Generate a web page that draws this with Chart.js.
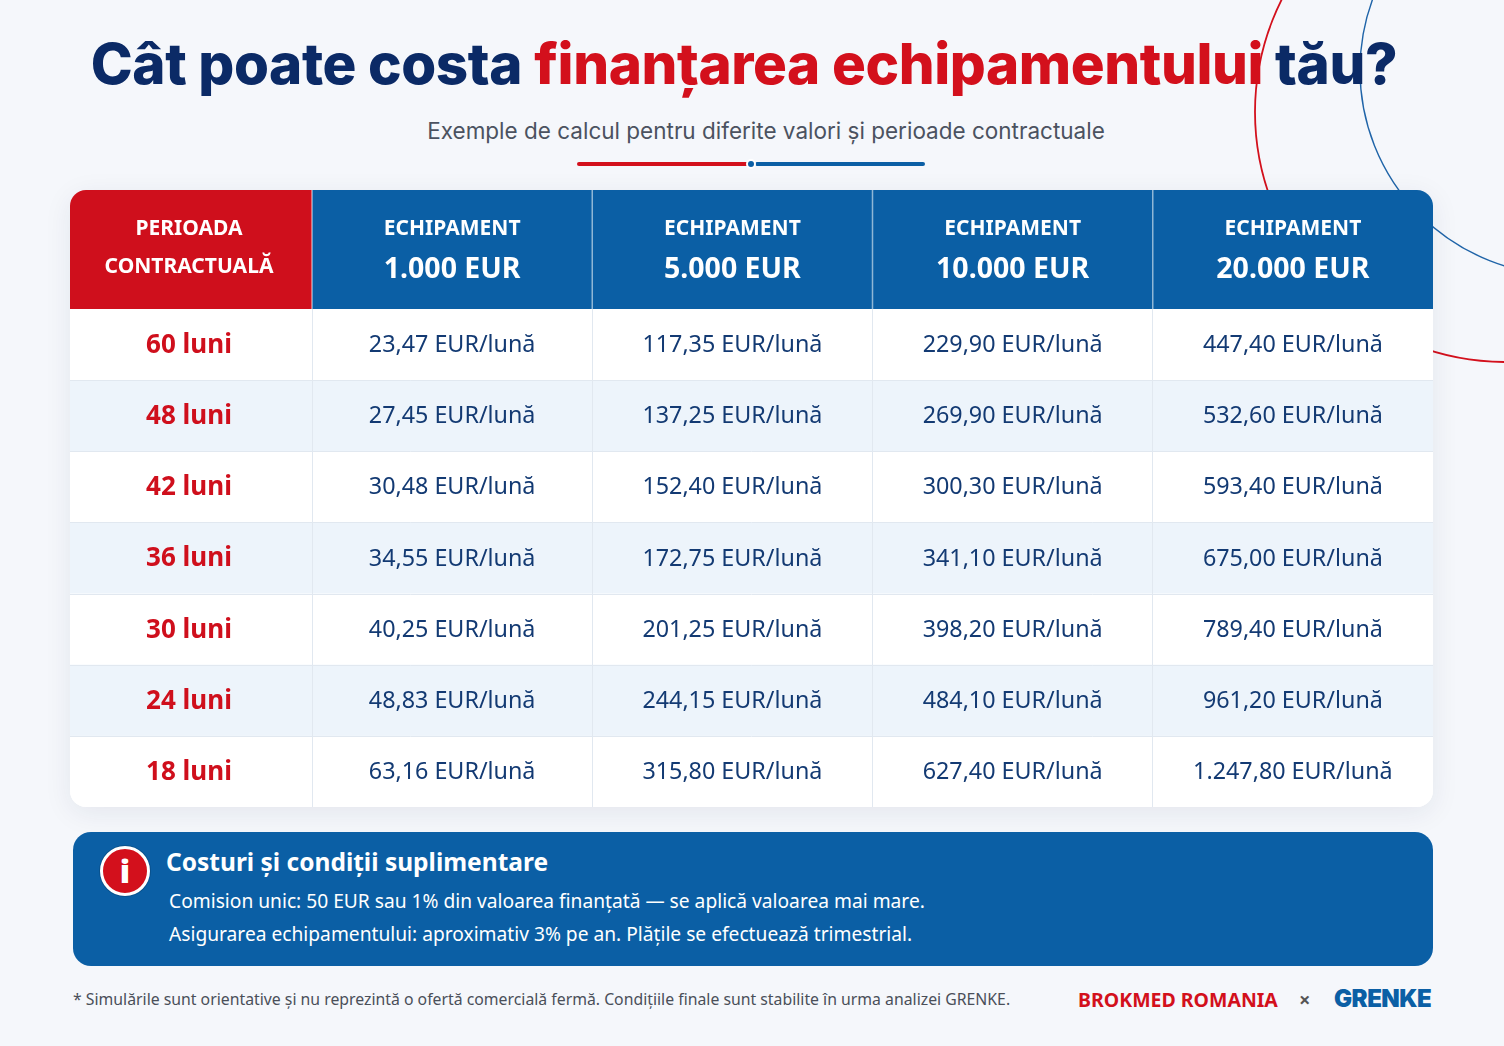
<!DOCTYPE html>
<html lang="ro">
<head>
<meta charset="utf-8">
<script src="https://cdn.jsdelivr.net/npm/chart.js@4.4.1/dist/chart.umd.min.js"></script>
<style>
  html,body{margin:0;padding:0;}
  body{width:1504px;height:1046px;background:#f5f7fb;position:relative;overflow:hidden;font-family:"Noto Sans",sans-serif;}
  #deco{position:absolute;left:0;top:0;width:1504px;height:1046px;pointer-events:none;}
  h1{position:absolute;left:0;top:24px;width:1488px;margin:0;text-align:center;font-family:Inter,sans-serif;font-weight:800;font-size:56.5px;letter-spacing:-0.4px;color:#0b2a66;line-height:80px;}
  h1 .r{color:#d3101c;}
  .sub{position:absolute;left:0;width:1532px;top:116px;text-align:center;font-family:Inter,sans-serif;font-size:22.5px;color:#4b5260;line-height:30px;}
  .bar{position:absolute;top:162px;height:4px;border-radius:2px;}
  .dot{position:absolute;left:746px;top:159px;width:6px;height:6px;border-radius:50%;background:#0b5fa5;border:2px solid #fff;}
  #card{position:absolute;left:70px;top:190px;width:1363px;height:617px;border-radius:16px;overflow:hidden;background:#fff;box-shadow:0 6px 28px rgba(20,40,80,0.08);}
  #info{position:absolute;left:73px;top:832px;width:1360px;height:134px;border-radius:18px;background:#0b5fa5;color:#fff;}
  .ititle{position:absolute;left:93px;top:13px;font-weight:700;font-size:24.5px;line-height:34px;}
  .iline{position:absolute;left:96px;font-size:19.2px;line-height:28px;}
  .icon{position:absolute;left:27px;top:14px;width:50px;height:50px;border-radius:50%;background:#d3101c;border:3px solid #fff;box-sizing:border-box;color:#fff;font-weight:900;font-size:32px;line-height:43px;text-align:center;font-family:"Noto Sans",sans-serif;box-shadow:0 0 0 1px rgba(0,0,0,0.15);}
  .foot{position:absolute;left:73px;top:987px;font-size:15.8px;color:#4a4f59;line-height:24px;}
  .brand{position:absolute;left:1078px;top:985px;font-weight:700;font-size:19.5px;color:#d3101c;line-height:30px;}
  .x{position:absolute;left:1299px;top:985px;font-weight:700;font-size:20px;color:#555;line-height:30px;}
  .grenke{position:absolute;left:1334px;top:983px;font-family:Inter,sans-serif;font-weight:900;font-size:24px;color:#0b5fa5;line-height:32px;letter-spacing:-0.5px;}
</style>
</head>
<body>
<svg id="deco" viewBox="0 0 1504 1046">
  <circle cx="1505" cy="112" r="250" fill="none" stroke="#d3101c" stroke-width="1.8"/>
  <circle cx="1565" cy="70" r="205" fill="none" stroke="#1f64a8" stroke-width="1.4"/>
</svg>
<h1>Cât poate costa <span class="r">finanțarea echipamentului</span> tău?</h1>
<div class="sub">Exemple de calcul pentru diferite valori și perioade contractuale</div>
<div class="bar" style="left:577px;width:172px;background:#d3101c;"></div>
<div class="bar" style="left:755px;width:170px;background:#0b5fa5;"></div>
<div class="dot"></div>

<div id="card"><canvas id="c"></canvas></div>

<div id="info">
  <div class="icon">i</div>
  <div class="ititle">Costuri și condiții suplimentare</div>
  <div class="iline" style="top:55px;">Comision unic: 50 EUR sau 1% din valoarea finanțată — se aplică valoarea mai mare.</div>
  <div class="iline" style="top:88px;">Asigurarea echipamentului: aproximativ 3% pe an. Plățile se efectuează trimestrial.</div>
</div>

<div class="foot">* Simulările sunt orientative și nu reprezintă o ofertă comercială fermă. Condițiile finale sunt stabilite în urma analizei GRENKE.</div>
<div class="brand">BROKMED ROMANIA</div>
<div class="x">×</div>
<div class="grenke">GRENKE</div>

<script>
// ---- data ----
const periodHeader = ['PERIOADA', 'CONTRACTUALĂ'];
const equipmentHeader = 'ECHIPAMENT';
const periods = ['60 luni', '48 luni', '42 luni', '36 luni', '30 luni', '24 luni', '18 luni'];
const equipment = ['1.000 EUR', '5.000 EUR', '10.000 EUR', '20.000 EUR'];
const rate1000 = [23.47, 27.45, 30.48, 34.55, 40.25, 48.83, 63.16];
const rate5000 = [117.35, 137.25, 152.40, 172.75, 201.25, 244.15, 315.80];
const rate10000 = [229.90, 269.90, 300.30, 341.10, 398.20, 484.10, 627.40];
const rate20000 = [447.40, 532.60, 593.40, 675.00, 789.40, 961.20, 1247.80];
const unit = 'EUR/lună';

const rates = [rate1000, rate5000, rate10000, rate20000];

function fmt(v) {
  const parts = v.toFixed(2).split('.');
  const int = parts[0].replace(/\B(?=(\d{3})+(?!\d))/g, '.');
  return int + ',' + parts[1] + ' ' + unit;
}

const RED = '#cf0f1c', BLUE = '#0b5fa5', NAVY = '#133a73';

const tablePlugin = {
  id: 'tablePlugin',
  beforeDraw(chart) {
    const {ctx, scales: {x, y}, width} = chart;
    const band = (y.getPixelForValue(1) - y.getPixelForValue(0)) / 2;
    ctx.save();
    ctx.fillStyle = '#ffffff';
    ctx.fillRect(0, 0, width, chart.height);
    periods.forEach((p, i) => {
      const cy = y.getPixelForValue(i);
      if (i % 2 === 1) {
        ctx.fillStyle = '#edf4fb';
        ctx.fillRect(0, cy - band, width, band * 2);
      }
    });
    ctx.strokeStyle = '#e1e8f0';
    ctx.lineWidth = 1;
    periods.forEach((p, i) => {
      if (i === 0) return;
      const yy = Math.round(y.getPixelForValue(i) - band) + 0.5;
      ctx.beginPath(); ctx.moveTo(0, yy); ctx.lineTo(width, yy); ctx.stroke();
    });
    ctx.restore();
  },
  afterDraw(chart) {
    const {ctx, scales: {x, y}, width} = chart;
    const half = (x.getPixelForValue(1) - x.getPixelForValue(0)) / 2;
    const top = 0, bottom = x.bottom;
    ctx.save();
    ctx.fillStyle = RED;
    ctx.fillRect(0, top, x.left, bottom - top);
    ctx.fillStyle = BLUE;
    ctx.fillRect(x.left, top, width - x.left, bottom - top);
    ctx.strokeStyle = 'rgba(255,255,255,0.55)';
    ctx.lineWidth = 1.5;
    equipment.forEach((e, j) => {
      const xx = x.getPixelForValue(j) - half;
      ctx.beginPath(); ctx.moveTo(xx, top); ctx.lineTo(xx, bottom); ctx.stroke();
    });
    ctx.textAlign = 'center';
    ctx.textBaseline = 'middle';
    ctx.fillStyle = '#ffffff';
    const mid = (top + bottom) / 2;
    const c0 = x.left / 2 - 2;
    ctx.font = '700 21px "Noto Sans"';
    ctx.fillText(periodHeader[0], c0, mid - 20);
    ctx.fillText(periodHeader[1], c0, mid + 18);
    equipment.forEach((e, j) => {
      const cx = x.getPixelForValue(j);
      ctx.font = '700 21px "Noto Sans"';
      ctx.fillText(equipmentHeader, cx, mid - 20);
      ctx.font = '700 28.5px "Noto Sans"';
      ctx.fillText(e, cx, mid + 20);
    });
    ctx.fillStyle = RED;
    ctx.font = '700 26px "Noto Sans"';
    periods.forEach((p, i) => {
      ctx.fillText(p, c0, y.getPixelForValue(i) + 1);
    });
    ctx.fillStyle = NAVY;
    ctx.font = '400 23.3px "Noto Sans"';
    chart.data.datasets.forEach((ds, d) => {
      const meta = chart.getDatasetMeta(d);
      meta.data.forEach((pt, k) => {
        ctx.fillText(fmt(ds.data[k].v), pt.x, pt.y + 1);
      });
    });
    ctx.restore();
  }
};

const datasets = equipment.map((e, j) => ({
  label: e,
  data: periods.map((p, i) => ({x: e, y: p, v: rates[j][i]})),
  showLine: false,
  pointRadius: 0,
  pointHoverRadius: 0
}));

new Chart(document.getElementById('c'), {
  type: 'line',
  data: {datasets},
  options: {
    responsive: true,
    maintainAspectRatio: false,
    animation: false,
    events: [],
    layout: {padding: 0},
    plugins: {legend: {display: false}, tooltip: {enabled: false}},
    scales: {
      x: {
        type: 'category',
        labels: equipment,
        position: 'top',
        offset: true,
        border: {display: false},
        grid: {offset: true, color: '#e1e8f0', drawTicks: false, lineWidth: 1},
        ticks: {display: false},
        afterFit: s => { s.height = 119; }
      },
      y: {
        type: 'category',
        labels: periods,
        offset: true,
        border: {display: false},
        grid: {display: false},
        ticks: {display: false},
        afterFit: s => { s.width = 242; }
      }
    }
  },
  plugins: [tablePlugin]
});
</script>
</body>
</html>
